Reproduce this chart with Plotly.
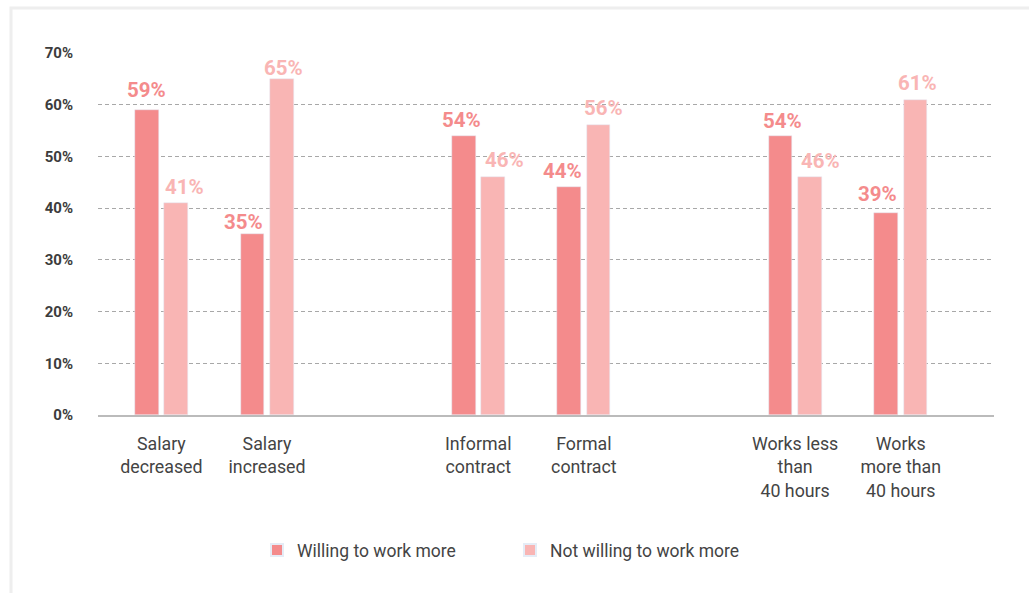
import plotly.graph_objects as go

# Survey categories (empty slots separate the three groups)
categories = ["Salary<br>decreased", "Salary<br>increased",
              "Informal<br>contract", "Formal<br>contract",
              "Works less<br>than<br>40 hours", "Works<br>more than<br>40 hours"]
positions = [0, 1, 3, 4, 6, 7]

willing = [59, 35, 54, 44, 54, 39]
not_willing = [41, 65, 46, 56, 46, 61]

y_ticks = [0, 10, 20, 30, 40, 50, 60, 70]

# Label nudges (px) so neighbouring value labels do not collide
willing_dx = [0, -9, -2, -7, 2, -9]
willing_dy = [12, 4, 8, 8, 7, 11]
not_willing_dx = [8, 2, 11, 5, 11, 2]
not_willing_dy = [8, 3, 9, 9, 8, 9]

DARK = "#F48B8C"
LIGHT = "#F9B5B4"
FONT = "Roboto"

W, H = 1029, 593
ML, MR, MT, MB = 98, 35, 53, 178
BAR_W = 0.224

fig = go.Figure()
fig.add_trace(go.Bar(
    x=positions, y=willing, name="Willing to work more",
    marker=dict(color=DARK), width=BAR_W, offset=-0.25,
))
fig.add_trace(go.Bar(
    x=positions, y=not_willing, name="Not willing to work more",
    marker=dict(color=LIGHT), width=BAR_W, offset=0.028,
))

# Value labels above the bars
for series, color, offs, dxs, dys in [
    (willing, DARK, -0.25, willing_dx, willing_dy),
    (not_willing, LIGHT, 0.028, not_willing_dx, not_willing_dy),
]:
    for xp, v, dx, dy in zip(positions, series, dxs, dys):
        fig.add_annotation(
            x=xp + offs + BAR_W / 2, y=v, text=f"{v}%",
            showarrow=False, xanchor="center", yanchor="bottom",
            xshift=dx, yshift=dy - 6,
            font=dict(family=FONT, size=20.5, color=color, weight="bold"),
        )

# Light frame around the chart
pw = W - ML - MR
ph = H - MT - MB
fig.add_shape(
    type="rect", xref="paper", yref="paper",
    x0=(11 - ML) / pw, x1=(W + 20 - ML) / pw,
    y0=(H - MB - 8) / ph, y1=(H - MB - (H + 20)) / ph,
    line=dict(color="#EEEEEE", width=3), fillcolor="rgba(0,0,0,0)",
    layer="below",
)

fig.update_layout(
    width=W, height=H,
    margin=dict(l=ML, r=MR, t=MT, b=MB),
    paper_bgcolor="white", plot_bgcolor="white",
    barmode="overlay", bargap=0,
    font=dict(family=FONT, color="#444444"),
    showlegend=True,
    legend=dict(
        orientation="h", xanchor="left", yanchor="middle",
        x=(257 - ML) / pw, y=(H - MB - 550) / ph,
        font=dict(family=FONT, size=17.5, color="#444444"),
        entrywidth=208, itemsizing="constant",
    ),
    xaxis=dict(
        range=[-0.6, 7.883], tickmode="array",
        tickvals=positions, ticktext=categories,
        showgrid=False, zeroline=False,
        showline=True, linecolor="#BBBBBB", linewidth=2,
        ticks="", tickfont=dict(family=FONT, size=17.8, color="#444444"),
        ticklabelstandoff=12,
    ),
    yaxis=dict(
        range=[0, 70], tickmode="array", tickvals=y_ticks,
        ticktext=[f"{t}%" for t in y_ticks],
        showgrid=True, gridcolor="#A8A8A8", gridwidth=1, griddash="4px,3px",
        zeroline=False, showline=False, ticks="",
        tickfont=dict(family=FONT, size=15, color="#3C3C3C", weight="bold"),
        ticklabelstandoff=24,
    ),
)

fig.write_html("out.html")
